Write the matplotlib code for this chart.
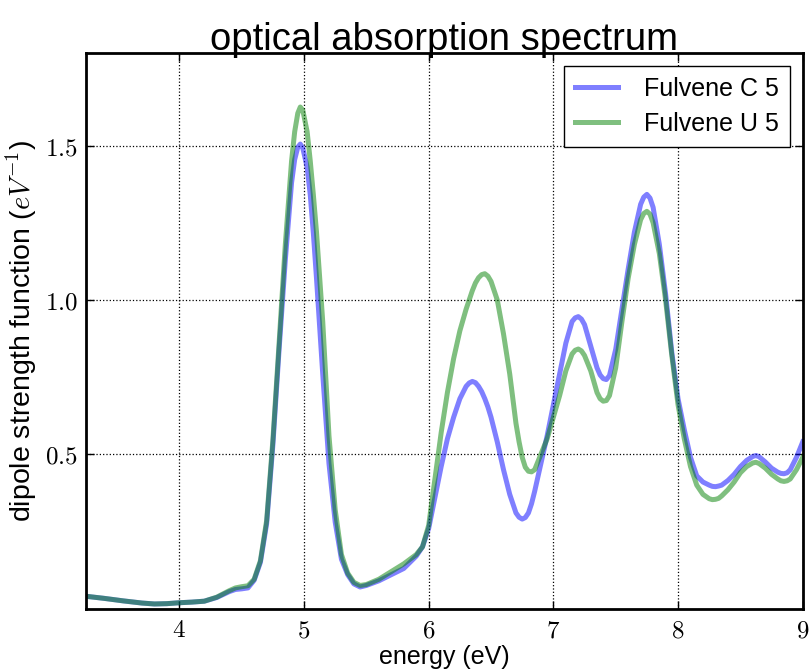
import matplotlib
matplotlib.use("Agg")
import matplotlib.pyplot as plt
from matplotlib.ticker import FuncFormatter

# energies (eV) sampled along both spectra
energy = [3.25, 3.40, 3.55, 3.70, 3.80, 3.90, 4.00, 4.10, 4.20, 4.30,
          4.40, 4.45, 4.50, 4.55, 4.60, 4.65, 4.70, 4.75, 4.80, 4.85,
          4.90, 4.925, 4.95, 4.97, 4.99, 5.025, 5.05, 5.075, 5.10, 5.15,
          5.20, 5.25, 5.30, 5.35, 5.40, 5.45, 5.50, 5.60, 5.70, 5.80,
          5.85, 5.90, 5.95, 6.00, 6.05, 6.10, 6.15, 6.20, 6.25, 6.30,
          6.325, 6.35, 6.375, 6.40, 6.425, 6.45, 6.475, 6.50, 6.55, 6.60,
          6.65, 6.70, 6.725, 6.75, 6.775, 6.80, 6.825, 6.85, 6.90, 6.95,
          7.00, 7.05, 7.10, 7.15, 7.175, 7.20, 7.225, 7.25, 7.30, 7.35,
          7.375, 7.40, 7.425, 7.45, 7.50, 7.55, 7.60, 7.65, 7.70, 7.725,
          7.75, 7.775, 7.80, 7.85, 7.90, 7.95, 8.00, 8.05, 8.10, 8.15,
          8.20, 8.25, 8.275, 8.30, 8.325, 8.35, 8.40, 8.45, 8.50, 8.55,
          8.60, 8.625, 8.65, 8.70, 8.75, 8.80, 8.825, 8.85, 8.875, 8.90,
          8.95, 9.00]

fulvene_c5 = [0.040, 0.033, 0.025, 0.018, 0.015, 0.016, 0.019, 0.021, 0.024, 0.036,
              0.055, 0.062, 0.064, 0.067, 0.092, 0.150, 0.275, 0.530, 0.840, 1.130,
              1.380, 1.455, 1.495, 1.505, 1.492, 1.430, 1.340, 1.215, 1.070, 0.760,
              0.470, 0.280, 0.160, 0.110, 0.080, 0.070, 0.075, 0.090, 0.110, 0.130,
              0.150, 0.170, 0.200, 0.260, 0.360, 0.460, 0.550, 0.620, 0.680, 0.720,
              0.731, 0.736, 0.732, 0.720, 0.703, 0.680, 0.653, 0.620, 0.540, 0.450,
              0.370, 0.310, 0.296, 0.290, 0.295, 0.310, 0.340, 0.380, 0.470, 0.560,
              0.660, 0.760, 0.860, 0.930, 0.942, 0.946, 0.938, 0.920, 0.850, 0.780,
              0.757, 0.745, 0.742, 0.755, 0.840, 0.970, 1.100, 1.220, 1.310, 1.333,
              1.342, 1.330, 1.300, 1.180, 1.020, 0.830, 0.680, 0.580, 0.490, 0.430,
              0.410, 0.400, 0.396, 0.395, 0.397, 0.400, 0.415, 0.435, 0.460, 0.480,
              0.493, 0.496, 0.492, 0.475, 0.455, 0.442, 0.438, 0.437, 0.440, 0.450,
              0.490, 0.540]

fulvene_u5 = [0.040, 0.033, 0.025, 0.018, 0.015, 0.016, 0.019, 0.021, 0.024, 0.037,
              0.058, 0.067, 0.071, 0.074, 0.095, 0.155, 0.285, 0.545, 0.860, 1.180,
              1.450, 1.545, 1.605, 1.625, 1.615, 1.545, 1.450, 1.340, 1.220, 0.930,
              0.560, 0.320, 0.175, 0.115, 0.085, 0.075, 0.078, 0.095, 0.120, 0.145,
              0.160, 0.175, 0.200, 0.270, 0.420, 0.570, 0.700, 0.810, 0.900, 0.970,
              1.000, 1.030, 1.055, 1.072, 1.082, 1.085, 1.077, 1.060, 1.000, 0.890,
              0.760, 0.600, 0.540, 0.490, 0.458, 0.445, 0.443, 0.450, 0.500, 0.550,
              0.620, 0.690, 0.770, 0.825, 0.837, 0.841, 0.835, 0.820, 0.770, 0.700,
              0.680, 0.672, 0.674, 0.690, 0.780, 0.930, 1.070, 1.180, 1.260, 1.280,
              1.287, 1.278, 1.250, 1.150, 1.000, 0.820, 0.660, 0.550, 0.460, 0.400,
              0.370, 0.356, 0.353, 0.354, 0.357, 0.365, 0.385, 0.410, 0.440, 0.460,
              0.472, 0.474, 0.470, 0.455, 0.435, 0.420, 0.414, 0.412, 0.414, 0.420,
              0.450, 0.490]

x_ticks = [4, 5, 6, 7, 8, 9]
y_ticks = [0.5, 1.0, 1.5]

plt.rcParams['mathtext.fontset'] = 'cm'
plt.rcParams['font.family'] = ['Liberation Sans', 'DejaVu Sans']

fig = plt.figure(figsize=(8.1, 6.71), dpi=100)
ax = fig.add_axes([0.106, 0.093, 0.885, 0.828])

ax.plot(energy, fulvene_c5, color='b', alpha=0.5, lw=3.6,
        solid_joinstyle='round', label='Fulvene C 5')
ax.plot(energy, fulvene_u5, color='g', alpha=0.5, lw=3.6,
        solid_joinstyle='round', label='Fulvene U 5')

ax.set_xlim(3.25, 9.0)
ax.set_ylim(0.0, 1.8)
ax.set_xticks(x_ticks)
ax.set_yticks(y_ticks)
ax.xaxis.set_major_formatter(FuncFormatter(lambda v, p: '$%d$' % v))
ax.yaxis.set_major_formatter(FuncFormatter(lambda v, p: '$%.1f$' % v))
ax.tick_params(direction='in', length=6, width=1, top=True, right=True,
               labelsize=18)
ax.tick_params(axis='x', pad=7)
ax.tick_params(axis='y', pad=6)
ax.grid(True, linestyle=':', color='k', linewidth=0.9)
for s in ax.spines.values():
    s.set_linewidth(2)

ax.set_title('optical absorption spectrum', fontsize=27.5, pad=2)
ax.set_xlabel('energy (eV)', fontsize=18, labelpad=2)
ax.set_ylabel('dipole strength function ($eV^{-1}$)', fontsize=20.5, labelpad=4)

leg = ax.legend(loc='upper right', fontsize=18, fancybox=False, framealpha=1,
                edgecolor='k', handlelength=1.7, handletextpad=1.05,
                borderpad=0.45, labelspacing=0.45)
leg.get_frame().set_linewidth(1)

fig.savefig('out.png', dpi=100)
